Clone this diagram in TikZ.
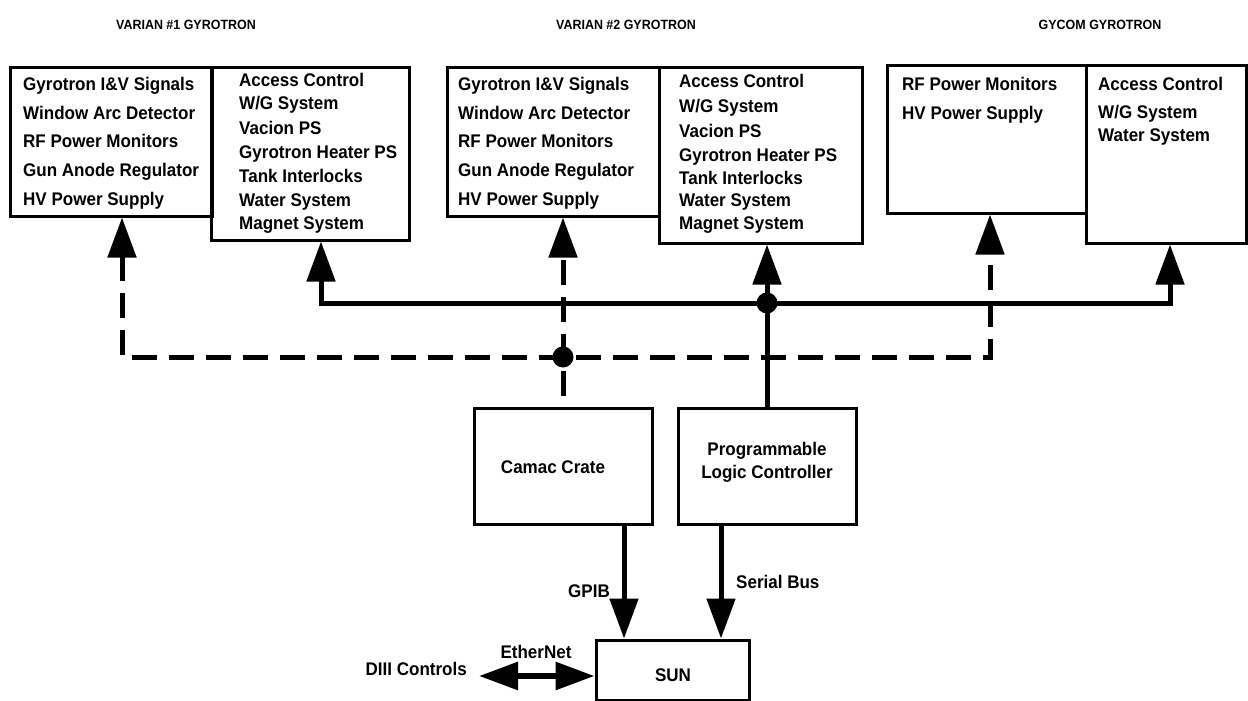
\documentclass[tikz,border=0pt]{standalone}
\usepackage{fontspec}
\setmainfont[FakeStretch=0.93]{Liberation Sans}
\usetikzlibrary{arrows.meta}
\begin{document}
\begin{tikzpicture}[x=1pt,y=-1pt,
  box/.style={draw,line width=3pt,inner sep=0pt},
  lbl/.style={anchor=base west,inner sep=0pt,font=\fontsize{18.3}{21}\selectfont\bfseries},
  clbl/.style={anchor=base,inner sep=0pt,font=\fontsize{18.3}{21}\selectfont\bfseries},
  ttl/.style={anchor=base,inner sep=0pt,font=\fontsize{13.4}{16}\selectfont\bfseries},
  bus/.style={line width=5pt},
  dbus/.style={line width=5pt,dash pattern=on 25pt off 12pt},
  bigtip/.style={-{Triangle[length=40pt,width=28pt]}},
  bothtips/.style={{Triangle[length=40pt,width=28pt]}-{Triangle[length=40pt,width=28pt]}},
  dot/.style={circle,fill,inner sep=0pt,minimum size=21pt}
]
\useasboundingbox (0,0) rectangle (1248,701);

% titles
\node[ttl] (t1) at (186,29.5) {VARIAN \#1 GYROTRON};
\node[ttl] (t2) at (626,29.5) {VARIAN \#2 GYROTRON};
\node[ttl] (t3) at (1100,29.5) {GYCOM GYROTRON};

% boxes
\node[box,minimum width=202pt,minimum height=148pt] (v1l) at (111,142) {};
\node[box,minimum width=198pt,minimum height=172pt] (v1r) at (310,154) {};
\node[box,minimum width=212pt,minimum height=148pt] (v2l) at (553,142) {};
\node[box,minimum width=203pt,minimum height=175pt] (v2r) at (760.5,155.5) {};
\node[box,minimum width=199pt,minimum height=147pt] (gl) at (986.5,139.5) {};
\node[box,minimum width=160pt,minimum height=177pt] (gr) at (1166,154.5) {};
\node[box,minimum width=178pt,minimum height=116pt] (camac) at (563,466) {};
\node[box,minimum width=178pt,minimum height=116pt] (plc) at (767,466) {};
\node[box,minimum width=153pt,minimum height=60pt] (sun) at (672.5,670) {};

% box texts
\foreach \t/\yy [count=\i] in {{Gyrotron I\&V Signals}/91, {Window Arc Detector}/119, {RF Power Monitors}/147, {Gun Anode Regulator}/176, {HV Power Supply}/205}
  \node[lbl] (a\i) at (23,\yy) {\t};
\foreach \t/\yy [count=\i] in {{Access Control}/86, {W/G System}/110, {Vacion PS}/134, {Gyrotron Heater PS}/158, {Tank Interlocks}/182, {Water System}/206, {Magnet System}/229}
  \node[lbl] (b\i) at (239,\yy) {\t};
\foreach \t/\yy [count=\i] in {{Gyrotron I\&V Signals}/91, {Window Arc Detector}/119, {RF Power Monitors}/147, {Gun Anode Regulator}/176, {HV Power Supply}/205}
  \node[lbl] (c\i) at (458,\yy) {\t};
\foreach \t/\yy [count=\i] in {{Access Control}/88, {W/G System}/113, {Vacion PS}/137, {Gyrotron Heater PS}/161, {Tank Interlocks}/184, {Water System}/206, {Magnet System}/229}
  \node[lbl] (d\i) at (679,\yy) {\t};
\foreach \t/\yy [count=\i] in {{RF Power Monitors}/91, {HV Power Supply}/119}
  \node[lbl] (e\i) at (902,\yy) {\t};
\foreach \t/\yy [count=\i] in {{Access Control}/91, {W/G System}/118, {Water System}/141}
  \node[lbl] (f\i) at (1098,\yy) {\t};

\node[clbl] (camact) at (553,473) {Camac Crate};
\node[clbl] (plct1) at (767,455) {Programmable};
\node[clbl] (plct2) at (767,478) {Logic Controller};
\node[clbl] (sunt) at (673,681) {SUN};
\node[lbl,anchor=base east] (gpib) at (610,597) {GPIB};
\node[lbl] (serial) at (736,588) {Serial Bus};
\node[clbl] (ethl) at (536,658) {EtherNet};
\node[lbl,anchor=base east] (diii) at (467,675) {DIII Controls};

% junction coordinates
\coordinate (dA) at (122,357);
\coordinate (dB) at (563,357);
\coordinate (dC) at (990,357);
\coordinate (sA) at (321,303);
\coordinate (sB) at (767,303);
\coordinate (sC) at (1170,303);
\coordinate (gx) at (624,580);
\coordinate (sx) at (721,580);
\coordinate (eth) at (479,676);

% dashed bus
\draw[dbus,bothtips] (v1l.south -| dA) -- (dA) -- (dC) -- (gl.south -| dC);
\draw[dbus,bigtip] ([yshift=11pt]camac.north -| dB) -- (v2l.south -| dB);
% solid bus
\draw[bus,bothtips] (v1r.south -| sA) -- (sA) -- (sC) -- (gr.south -| sC);
\draw[bus,bigtip] (plc.north -| sB) -- (v2r.south -| sB);
\node[dot] (jd) at (dB) {};
\node[dot] (js) at (sB) {};

% lower links
\draw[bus,bigtip] (camac.south -| gx) -- (sun.north -| gx);
\draw[bus,bigtip] (plc.south -| sx) -- (sun.north -| sx);
\draw[line width=6pt,{Triangle[length=39pt,width=27pt]}-{Triangle[length=39pt,width=27pt]}] (eth) -- (eth -| sun.west);
\end{tikzpicture}
\end{document}
